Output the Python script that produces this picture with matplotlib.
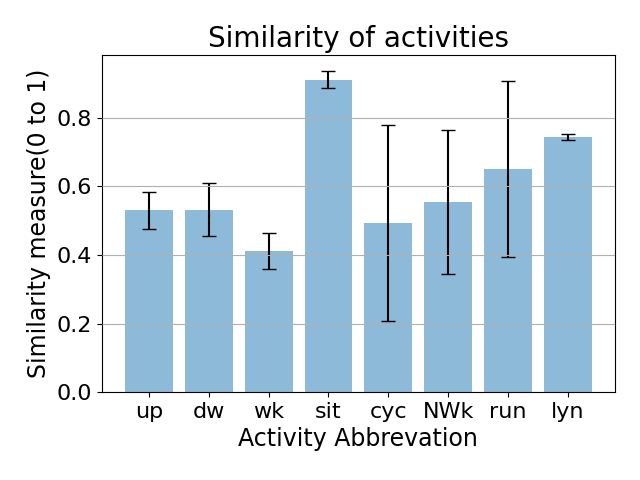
import matplotlib
matplotlib.use("Agg")
import matplotlib.pyplot as plt
import numpy as np

categories = ["up", "dw", "wk", "sit", "cyc", "NWk", "run", "lyn"]
means = [0.530, 0.532, 0.412, 0.910, 0.493, 0.555, 0.651, 0.744]
errors = [0.054, 0.078, 0.053, 0.025, 0.286, 0.210, 0.256, 0.009]

fig = plt.figure(figsize=(6.4, 4.8), dpi=100)
ax = fig.add_axes([0.159, 0.183, 0.802, 0.702])
x = np.arange(len(categories))
ax.bar(x, means, yerr=errors, align="center", alpha=0.5, ecolor="black", capsize=5, color="#1f77b4")
ax.set_xticks(x)
ax.set_xticklabels(categories)
ax.yaxis.grid(True)
ax.set_axisbelow(False)
ax.tick_params(labelsize=16)
ax.set_ylabel("Similarity measure(0 to 1)", fontsize=17)
ax.set_xlabel("Activity Abbrevation", fontsize=17)
ax.set_title("Similarity of activities", fontsize=20)
fig.savefig("out.png", dpi=100)
